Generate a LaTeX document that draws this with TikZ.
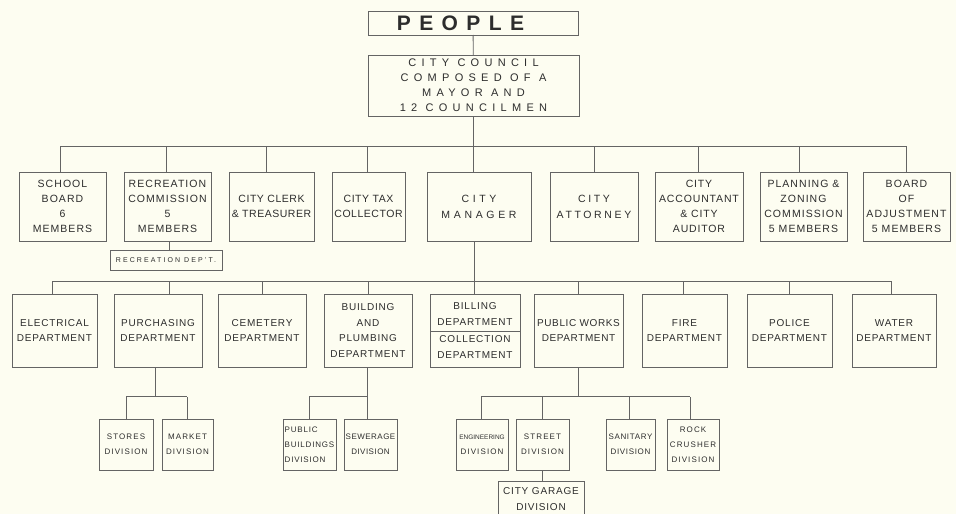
\documentclass[tikz,border=0pt]{standalone}
\usepackage{fontspec}
\setmainfont{Liberation Sans}
\usetikzlibrary{calc}
\definecolor{paper}{RGB}{253,253,241}
\definecolor{ink}{RGB}{45,45,45}
\definecolor{rule}{RGB}{100,100,100}
\tikzset{
  box/.style={draw=rule, line width=0.8pt, inner sep=0pt, outer sep=0pt, align=center, text=ink},
  wh/.style 2 args={minimum width=#1pt, minimum height=#2pt},
  conn/.style={draw=rule, line width=0.8pt},
  peoplefont/.style={font=\fontsize{21}{21}\selectfont\bfseries\addfontfeature{LetterSpace=40}},
  councilfont/.style={font=\fontsize{11}{15}\selectfont\addfontfeature{LetterSpace=48}},
  rowA/.style={font=\fontsize{10.5}{15}\selectfont\addfontfeature{LetterSpace=#1}},
  rowA/.default=10,
  mgrfont/.style={font=\fontsize{10.5}{16}\selectfont\addfontfeature{LetterSpace=#1}},
  mgrfont/.default=35,
  rowB/.style={font=\fontsize{10}{15.5}\selectfont\addfontfeature{LetterSpace=#1}},
  rowB/.default=8,
  divfont/.style={font=\fontsize{8}{15}\selectfont\addfontfeature{LetterSpace=#1}},
  divfont/.default=14,
}
\begin{document}
\begin{tikzpicture}[x=1pt,y=-1pt]
\fill[paper] (0,0) rectangle (956,514);
\useasboundingbox (0,0) rectangle (956,514);

% top
\node[box,wh={210}{24},peoplefont] (people) at (473,23) {PEOPLE\hspace*{25pt}};
\node[box,wh={211}{61},councilfont] (council) at (473.5,85.5) {CITY COUNCIL\\COMPOSED OF A\\MAYOR AND\\12 COUNCILMEN};

% row 1
\node[box,wh={87}{69},rowA] (school) at (62.5,206.5) {SCHOOL\\BOARD\\6\\MEMBERS};
\node[box,wh={87}{69},rowA] (reccomm) at (167.5,206.5) {RECREATION\\COMMISSION\\5\\MEMBERS};
\node[box,wh={85}{69},rowA=5] (clerk) at (271.5,206.5) {CITY CLERK\\\& TREASURER};
\node[box,wh={73}{69},rowA=5] (tax) at (368.5,206.5) {CITY TAX\\COLLECTOR};
\node[box,wh={104}{69},mgrfont] (manager) at (479,206.5) {CITY\\MANAGER};
\node[box,wh={88}{69},mgrfont=25] (attorney) at (594,206.5) {CITY\\ATTORNEY};
\node[box,wh={88}{69},rowA=8] (acct) at (699,206.5) {CITY\\ACCOUNTANT\\\& CITY\\AUDITOR};
\node[box,wh={87}{69},rowA] (planning) at (803.5,206.5) {PLANNING \&\\ZONING\\COMMISSION\\5 MEMBERS};
\node[box,wh={87}{69},rowA] (board) at (906.5,206.5) {BOARD\\OF\\ADJUSTMENT\\5 MEMBERS};
\node[box,wh={112}{20},font=\fontsize{7}{8}\selectfont\addfontfeature{LetterSpace=30}] (recdept) at (166,260) {RECREATION DEP'T.};

% row 2
\node[box,wh={85}{73},rowB] (electrical) at (54.5,330.5) {ELECTRICAL\\DEPARTMENT};
\node[box,wh={88}{73},rowB] (purch) at (158,330.5) {PURCHASING\\DEPARTMENT};
\node[box,wh={88}{73},rowB] (cemetery) at (262,330.5) {CEMETERY\\DEPARTMENT};
\node[box,wh={88}{73},rowB] (build) at (368,330.5) {BUILDING\\AND\\PLUMBING\\DEPARTMENT};
\node[box,wh={90}{73}] (billing) at (475,330.5) {};
\node[rowB,text=ink,align=center,inner sep=0pt] (billtop) at (475,314) {BILLING\\DEPARTMENT};
\node[rowB,text=ink,align=center,inner sep=0pt] (billbot) at (475,347) {COLLECTION\\DEPARTMENT};
\node[box,wh={89}{73},rowB=6] (pworks) at (578.5,330.5) {PUBLIC WORKS\\DEPARTMENT};
\node[box,wh={85}{73},rowB] (fire) at (684.5,330.5) {FIRE\\DEPARTMENT};
\node[box,wh={85}{73},rowB] (police) at (789.5,330.5) {POLICE\\DEPARTMENT};
\node[box,wh={84}{73},rowB] (water) at (894,330.5) {WATER\\DEPARTMENT};
\coordinate (billdiv) at (0,331);
\draw[conn] (billing.west |- billdiv) -- (billing.east |- billdiv);

% row 3
\node[box,wh={54}{51},divfont] (stores) at (126,444.5) {STORES\\DIVISION};
\node[box,wh={51}{51},divfont] (market) at (187.5,444.5) {MARKET\\DIVISION};
\node[box,wh={53}{51},divfont=10,align=left] (pubbuild) at (309.5,444.5) {PUBLIC\\BUILDINGS\\DIVISION};
\node[box,wh={53}{51},divfont=6] (sewerage) at (370.5,444.5) {SEWERAGE\\DIVISION};
\node[box,wh={52}{51},divfont] (engineering) at (482,444.5) {{\fontsize{6.5}{15}\selectfont\addfontfeature{LetterSpace=0}ENGINEERING}\\DIVISION};
\node[box,wh={53}{51},divfont] (street) at (542.5,444.5) {STREET\\DIVISION};
\node[box,wh={49}{51},divfont=8] (sanitary) at (630.5,444.5) {SANITARY\\DIVISION};
\node[box,wh={52}{51},divfont] (rock) at (693,444.5) {ROCK\\CRUSHER\\DIVISION};
\node[box,wh={86}{36},rowB] (garage) at (541,499) {CITY GARAGE\\DIVISION};

% buses
\coordinate (bus1) at (0,146);
\coordinate (bus2) at (0,281);
\coordinate (bus3) at (0,396.5);

% top connectors
\draw[conn] (people) -- (council);
\draw[conn] (council.south) -- (council.south |- manager.north);

% row 1 drops
\coordinate (t-school) at ([xshift=-2.5pt]school.north);
\coordinate (t-reccomm) at ([xshift=-1.5pt]reccomm.north);
\coordinate (t-clerk) at ([xshift=-5.5pt]clerk.north);
\coordinate (t-tax) at ([xshift=-1.5pt]tax.north);
\coordinate (t-attorney) at (attorney.north);
\coordinate (t-acct) at ([xshift=-1pt]acct.north);
\coordinate (t-planning) at ([xshift=-4.5pt]planning.north);
\coordinate (t-board) at ([xshift=-0.5pt]board.north);
\draw[conn] (t-school |- bus1) -- (t-board |- bus1);
\foreach \n in {school,reccomm,clerk,tax,attorney,acct,planning,board}
  \draw[conn] (t-\n) -- (t-\n |- bus1);

\coordinate (b-reccomm) at ([xshift=1.5pt]reccomm.south);
\draw[conn] (b-reccomm) -- (b-reccomm |- recdept.north);

% manager to row 2
\coordinate (b-manager) at ([xshift=-5pt]manager.south);
\draw[conn] (b-manager) -- (b-manager |- billing.north);
\coordinate (t-electrical) at ([xshift=-2.5pt]electrical.north);
\coordinate (t-purch) at ([xshift=11pt]purch.north);
\coordinate (t-cemetery) at (cemetery.north);
\coordinate (t-build) at (build.north);
\coordinate (t-pworks) at ([xshift=-0.5pt]pworks.north);
\coordinate (t-fire) at ([xshift=-1.5pt]fire.north);
\coordinate (t-police) at ([xshift=-0.5pt]police.north);
\coordinate (t-water) at ([xshift=-3pt]water.north);
\draw[conn] (t-electrical |- bus2) -- (t-water |- bus2);
\foreach \n in {electrical,purch,cemetery,build,pworks,fire,police,water}
  \draw[conn] (t-\n) -- (t-\n |- bus2);

% row 3 connectors
\coordinate (b-purch) at ([xshift=-3pt]purch.south);
\coordinate (b-build) at ([xshift=-1pt]build.south);
\coordinate (b-pworks) at ([xshift=-0.5pt]pworks.south);
\coordinate (b-street) at ([xshift=-0.5pt]street.south);
\coordinate (t-stores) at (stores.north);
\coordinate (t-market) at ([xshift=-0.5pt]market.north);
\coordinate (t-pubbuild) at ([xshift=-0.5pt]pubbuild.north);
\coordinate (t-sewerage) at ([xshift=-3.5pt]sewerage.north);
\coordinate (t-engineering) at ([xshift=-1pt]engineering.north);
\coordinate (t-street) at ([xshift=-0.5pt]street.north);
\coordinate (t-sanitary) at ([xshift=-1.5pt]sanitary.north);
\coordinate (t-rock) at ([xshift=-3pt]rock.north);

\draw[conn] (b-purch) -- (b-purch |- bus3);
\draw[conn] (t-stores |- bus3) -- (t-market |- bus3);
\draw[conn] (b-build) -- (b-build |- bus3);
\draw[conn] (t-pubbuild |- bus3) -- (t-sewerage |- bus3);
\draw[conn] (b-pworks) -- (b-pworks |- bus3);
\draw[conn] (t-engineering |- bus3) -- (t-rock |- bus3);
\foreach \n in {stores,market,pubbuild,sewerage,engineering,street,sanitary,rock}
  \draw[conn] (t-\n) -- (t-\n |- bus3);
\draw[conn] (b-street) -- (b-street |- garage.north);
\end{tikzpicture}
\end{document}
